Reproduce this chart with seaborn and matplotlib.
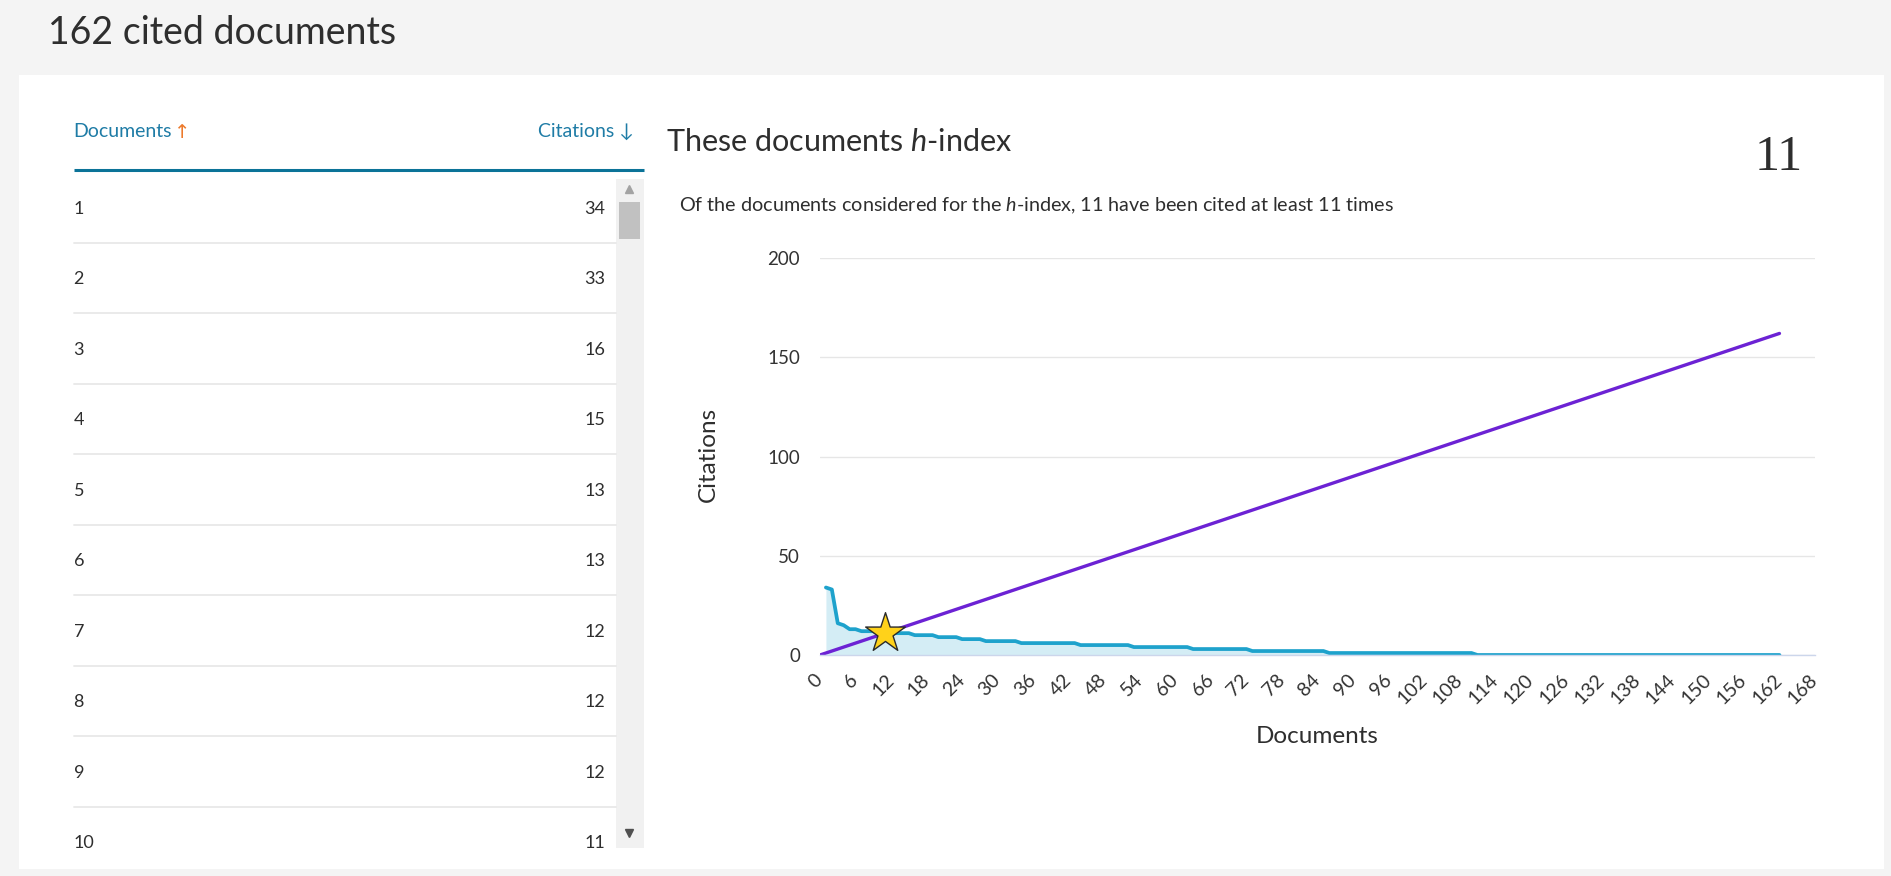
import numpy as np
import pandas as pd
import matplotlib
matplotlib.use("Agg")
import matplotlib.pyplot as plt
from matplotlib.patches import Rectangle
from matplotlib.transforms import ScaledTranslation
import seaborn as sns

# ---------------- data ----------------
citations = [34, 33, 16, 15, 13, 13, 12, 12, 12, 11,
             11, 11, 11, 11, 11, 10, 10, 10, 10, 9,
             9, 9, 9, 8, 8, 8, 8, 7, 7, 7,
             7, 7, 7, 6, 6, 6, 6, 6, 6, 6,
             6, 6, 6, 5, 5, 5, 5, 5, 5, 5,
             5, 5, 4, 4, 4, 4, 4, 4, 4, 4,
             4, 4, 3, 3, 3, 3, 3, 3, 3, 3,
             3, 3, 2, 2, 2, 2, 2, 2, 2, 2,
             2, 2, 2, 2, 2, 1, 1, 1, 1, 1,
             1, 1, 1, 1, 1, 1, 1, 1, 1, 1,
             1, 1, 1, 1, 1, 1, 1, 1, 1, 1,
             0, 0, 0, 0, 0, 0, 0, 0, 0, 0,
             0, 0, 0, 0, 0, 0, 0, 0, 0, 0,
             0, 0, 0, 0, 0, 0, 0, 0, 0, 0,
             0, 0, 0, 0, 0, 0, 0, 0, 0, 0,
             0, 0, 0, 0, 0, 0, 0, 0, 0, 0,
             0, 0]
x_ticks = [0, 6, 12, 18, 24, 30, 36, 42, 48, 54, 60, 66, 72, 78, 84, 90,
           96, 102, 108, 114, 120, 126, 132, 138, 144, 150, 156, 162, 168]
y_ticks = [0, 50, 100, 150, 200]
table_rows = 10

n_docs = len(citations)
docs = np.arange(1, n_docs + 1)
h_index = int(sum(1 for i, c in enumerate(citations) if c >= i + 1))
df = pd.DataFrame({"Documents": docs, "Citations": citations})
ref = pd.DataFrame({"x": np.arange(0, n_docs + 1), "y": np.arange(0, n_docs + 1)})

# ---------------- style ----------------
sns.set_theme(style="white")
plt.rcParams['font.family'] = ['Lato', 'DejaVu Sans']
plt.rcParams['mathtext.fontset'] = 'custom'
plt.rcParams['mathtext.rm'] = 'Lato'
plt.rcParams['mathtext.it'] = 'Lato:italic'

TXT = '#2e2e2e'
TEAL = '#1f7ca6'
W, H = 1891, 876
fig = plt.figure(figsize=(W / 100, H / 100), dpi=100, facecolor='#f4f4f4')

# page layer in reference pixel units (1568 x 726 grid)
bg = fig.add_axes([0, 0, 1, 1], zorder=0)
bg.set_xlim(0, 1568)
bg.set_ylim(726, 0)
bg.axis('off')
bg.add_patch(Rectangle((16, 62), 1546, 658, fc='white', ec='none'))

bg.text(40, 27, f'{n_docs} cited documents', fontsize=27, color=TXT,
        ha='left', va='center')

# table header
t_doc = bg.text(61, 109, 'Documents', fontsize=14, color=TEAL,
                ha='left', va='center')
r = fig.canvas.get_renderer()
bb = t_doc.get_window_extent(renderer=r).transformed(bg.transData.inverted())
bg.text(bb.x1 + 2, 110, '↑', fontsize=14, color='#ec7a2c',
        ha='left', va='center', family=['DejaVu Sans'])
bg.text(526, 109, 'Citations ↓', fontsize=14, color=TEAL,
        ha='right', va='center')
bg.plot([61, 534], [141, 141], color='#0b7398', lw=2.2, solid_capstyle='butt')

# table body
tb = fig.add_axes([61 / 1568, 1 - 703 / 726, (511 - 61) / 1568, (703 - 148) / 726],
                  zorder=1)
tb.set_xlim(61, 511)
tb.set_ylim(703, 148)
tb.axis('off')
pitch = 58.45
for i in range(table_rows):
    yy = 173 + pitch * i
    tb.text(61, yy, str(i + 1), fontsize=13, color=TXT, ha='left',
            va='center', clip_on=True)
    tb.text(502, yy, str(citations[i]), fontsize=13, color=TXT, ha='right',
            va='center', clip_on=True)
    tb.plot([61, 511], [yy + 28, yy + 28], color='#e8e8e8', lw=1.3,
            clip_on=False)

# scrollbar
bg.add_patch(Rectangle((511, 148), 23, 555, fc='#f1f1f1', ec='none'))
bg.add_patch(Rectangle((513, 167), 18, 31, fc='#c1c1c1', ec='none'))
bg.plot(521.5, 157, marker='^', ms=6, color='#a3a3a3', ls='none')
bg.plot(521.5, 690, marker='v', ms=6, color='#505050', ls='none')

# chart titles
bg.text(552, 118, 'These documents $h$-index', fontsize=22, color=TXT,
        ha='left', va='center')
bg.text(1495, 131, str(h_index), fontsize=36, color=TXT, ha='right',
        va='center', family=['Liberation Serif', 'DejaVu Serif'])
bg.text(563, 171,
        f'Of the documents considered for the $h$-index, {h_index} have been '
        f'cited at least {h_index} times',
        fontsize=14.2, color=TXT, ha='left', va='center')

# ---------------- chart ----------------
ax = fig.add_axes([820 / W, 1 - 655 / H, 995 / W, 397 / H], zorder=2)
ax.set_facecolor('none')
ax.fill_between(df['Documents'], df['Citations'], 0, color='#d4edf5', lw=0)
sns.lineplot(data=df, x='Documents', y='Citations', color='#1ea2cc',
             lw=2.7, ax=ax, estimator=None)
sns.lineplot(data=ref, x='x', y='y', color='#6c22d4', lw=2.4, ax=ax,
             estimator=None)
ax.scatter([h_index], [h_index], marker='*', s=900, c='#ffd21a',
           edgecolors='#2b2b2b', linewidths=1.0, zorder=6, clip_on=False)

ax.set_xlim(0, 168)
ax.set_ylim(0, 200)
ax.set_yticks(y_ticks)
ax.set_yticklabels([str(v) for v in y_ticks], fontsize=13.5, color='#333333')
ax.set_xticks(x_ticks)
ax.set_xticklabels([str(v) for v in x_ticks], fontsize=14, color='#333333',
                   rotation=45, ha='right', va='center', rotation_mode='anchor')
for lbl in ax.get_xticklabels():
    lbl.set_transform(lbl.get_transform() +
                      ScaledTranslation(3 / 72, 0, fig.dpi_scale_trans))
ax.tick_params(axis='both', length=0)
ax.tick_params(axis='y', pad=14.4)
ax.tick_params(axis='x', pad=16)
ax.grid(axis='y', color='#e6e6e6', lw=1)
ax.grid(axis='x', visible=False)
ax.set_axisbelow(True)
for s in ['top', 'right', 'left']:
    ax.spines[s].set_visible(False)
ax.spines['bottom'].set_color('#ccd6eb')
ax.spines['bottom'].set_linewidth(1)
ax.set_xlabel('')
ax.set_ylabel('')
ax.text(0.5, -0.206, 'Documents', transform=ax.transAxes, fontsize=17.5,
        color=TXT, ha='center', va='center')
ax.text(-0.1126, 0.505, 'Citations', transform=ax.transAxes, fontsize=17.5,
        color=TXT, ha='center', va='center', rotation=90)

fig.savefig('out.png', dpi=100, facecolor=fig.get_facecolor())
